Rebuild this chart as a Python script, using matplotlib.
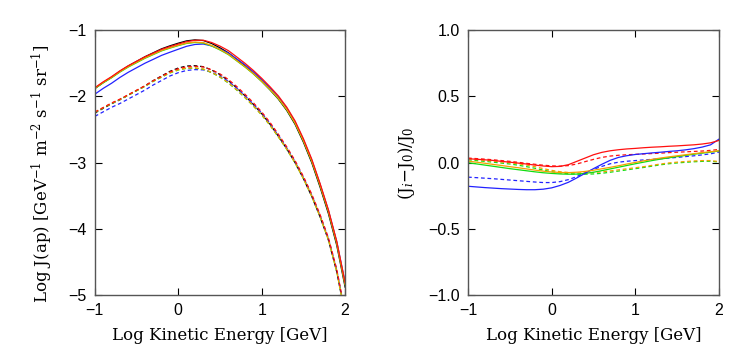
import numpy as np
import matplotlib
matplotlib.use("Agg")
import matplotlib.pyplot as plt

plt.rcParams["mathtext.fontset"] = "dejavuserif"

# log kinetic energy grid [GeV]
log_ek = np.round(np.arange(-1.0, 2.0001, 0.1), 2)

# reference flux J0 (black), solid and dashed models
j0_solid = [-1.88, -1.79, -1.71, -1.62, -1.54, -1.47, -1.40, -1.34, -1.28, -1.235,
            -1.195, -1.16, -1.145, -1.155, -1.20, -1.265, -1.34, -1.44, -1.54, -1.65,
            -1.77, -1.90, -2.04, -2.21, -2.42, -2.69, -3.00, -3.37, -3.77, -4.25, -4.88]
j0_dash = [-2.25, -2.18, -2.11, -2.05, -1.98, -1.91, -1.84, -1.76, -1.69, -1.62,
           -1.57, -1.54, -1.535, -1.55, -1.60, -1.67, -1.76, -1.87, -1.99, -2.12,
           -2.26, -2.42, -2.60, -2.79, -3.00, -3.24, -3.51, -3.82, -4.17, -4.65, -5.30]

# relative differences (Ji-J0)/J0
red_solid = [0.030, 0.026, 0.022, 0.017, 0.010, 0.004, -0.003, -0.010, -0.018, -0.025,
             -0.030, -0.028, -0.015, 0.010, 0.035, 0.060, 0.078, 0.090, 0.098, 0.104,
             0.108, 0.113, 0.117, 0.120, 0.124, 0.127, 0.131, 0.135, 0.141, 0.150, 0.168]
red_dash = [0.035, 0.031, 0.027, 0.022, 0.016, 0.010, 0.003, -0.005, -0.012, -0.019,
            -0.024, -0.026, -0.022, -0.010, 0.008, 0.025, 0.040, 0.050, 0.056, 0.060,
            0.063, 0.066, 0.069, 0.072, 0.076, 0.079, 0.082, 0.085, 0.088, 0.093, 0.100]
orange_solid = [0.012, 0.004, -0.004, -0.013, -0.021, -0.030, -0.038, -0.047, -0.056, -0.064,
                -0.070, -0.074, -0.075, -0.072, -0.066, -0.057, -0.046, -0.035, -0.023, -0.010,
                0.002, 0.014, 0.025, 0.035, 0.044, 0.052, 0.060, 0.068, 0.076, 0.083, 0.090]
orange_dash = [0.030, 0.024, 0.018, 0.012, 0.006, 0.000, -0.008, -0.018, -0.030, -0.045,
               -0.058, -0.068, -0.074, -0.077, -0.077, -0.074, -0.069, -0.062, -0.054, -0.046,
               -0.038, -0.030, -0.020, -0.010, -0.002, 0.004, 0.009, 0.013, 0.016, 0.016, 0.008]
green_solid = [0.000, -0.009, -0.018, -0.027, -0.036, -0.045, -0.053, -0.061, -0.069, -0.076,
               -0.081, -0.085, -0.087, -0.086, -0.081, -0.072, -0.060, -0.047, -0.034, -0.021,
               -0.008, 0.004, 0.016, 0.027, 0.037, 0.046, 0.055, 0.064, 0.072, 0.080, 0.088]
green_dash = [0.022, 0.016, 0.010, 0.004, -0.003, -0.010, -0.019, -0.030, -0.042, -0.056,
              -0.068, -0.077, -0.083, -0.086, -0.087, -0.085, -0.080, -0.072, -0.063, -0.054,
              -0.045, -0.036, -0.026, -0.016, -0.008, -0.002, 0.003, 0.007, 0.010, 0.011, 0.005]
blue_solid = [-0.178, -0.183, -0.188, -0.192, -0.196, -0.199, -0.202, -0.204, -0.204, -0.200,
              -0.190, -0.172, -0.148, -0.115, -0.080, -0.045, -0.012, 0.018, 0.040, 0.053,
              0.062, 0.068, 0.074, 0.079, 0.085, 0.090, 0.097, 0.106, 0.118, 0.135, 0.178]
blue_dash = [-0.109, -0.113, -0.117, -0.121, -0.126, -0.131, -0.136, -0.141, -0.146, -0.150,
             -0.150, -0.143, -0.128, -0.105, -0.075, -0.050, -0.028, -0.008, 0.004, 0.011,
             0.016, 0.021, 0.025, 0.030, 0.035, 0.040, 0.046, 0.052, 0.059, 0.067, 0.080]

colors = {"green": "#11dd11", "blue": "#2222ff", "orange": "#f5a000", "red": "#ff1010"}
solid_rel = {"green": green_solid, "blue": blue_solid, "orange": orange_solid, "red": red_solid}
dash_rel = {"green": green_dash, "blue": blue_dash, "orange": orange_dash, "red": red_dash}

lw = 0.9
dash = (3.0, 2.2)

fig = plt.figure(figsize=(7.47, 3.56), dpi=100)
ax1 = fig.add_axes([0.127, 0.171, 0.335, 0.744])
ax2 = fig.add_axes([0.6265, 0.171, 0.336, 0.744])

# left panel: fluxes, colored curves from J0 and the relative differences
j0s = np.array(j0_solid)
j0d = np.array(j0_dash)
ax1.plot(log_ek, j0d, color="black", lw=lw, dashes=dash)
ax1.plot(log_ek, j0s, color="black", lw=lw)
for name in ["blue", "green", "orange", "red"]:
    ax1.plot(log_ek, j0d + np.log10(1 + np.array(dash_rel[name])), color=colors[name], lw=lw, dashes=dash)
    ax1.plot(log_ek, j0s + np.log10(1 + np.array(solid_rel[name])), color=colors[name], lw=lw)

ax1.set_xlim(-1, 2)
ax1.set_ylim(-5, -1)
ax1.set_xticks([-1, 0, 1, 2])
ax1.set_yticks([-5, -4, -3, -2, -1])
ax1.set_xlabel("Log Kinetic Energy [GeV]", family="DejaVu Serif", fontsize=12, labelpad=6)
ax1.set_ylabel(r"Log J(ap) [GeV$^{-1}$ m$^{-2}$ s$^{-1}$ sr$^{-1}$]", family="DejaVu Serif",
               fontsize=12)
ax1.yaxis.set_label_coords(-0.16, 0.46)

# right panel: relative differences
for name in ["green", "blue", "orange", "red"]:
    ax2.plot(log_ek, dash_rel[name], color=colors[name], lw=lw, dashes=dash)
for name in ["green", "blue", "orange", "red"]:
    ax2.plot(log_ek, solid_rel[name], color=colors[name], lw=lw)

ax2.set_xlim(-1, 2)
ax2.set_ylim(-1, 1)
ax2.set_xticks([-1, 0, 1, 2])
ax2.set_yticks([-1.0, -0.5, 0.0, 0.5, 1.0])
ax2.set_yticklabels(["\u22121.0", "\u22120.5", "0.0", "0.5", "1.0"])
ax2.set_xlabel("Log Kinetic Energy [GeV]", family="DejaVu Serif", fontsize=12, labelpad=6)
ax2.set_ylabel(r"(J$_i$$-$J$_0$)/J$_0$", family="DejaVu Serif", fontsize=12, labelpad=8)

for ax in (ax1, ax2):
    ax.tick_params(direction="in", length=5, width=0.8, top=True, right=True,
                   labelsize=11.5, pad=6)
    for s in ax.spines.values():
        s.set_color("#555555")
        s.set_linewidth(1.0)
    for lab in ax.get_xticklabels() + ax.get_yticklabels():
        lab.set_family("Liberation Sans")

fig.savefig("out.png", dpi=100)
